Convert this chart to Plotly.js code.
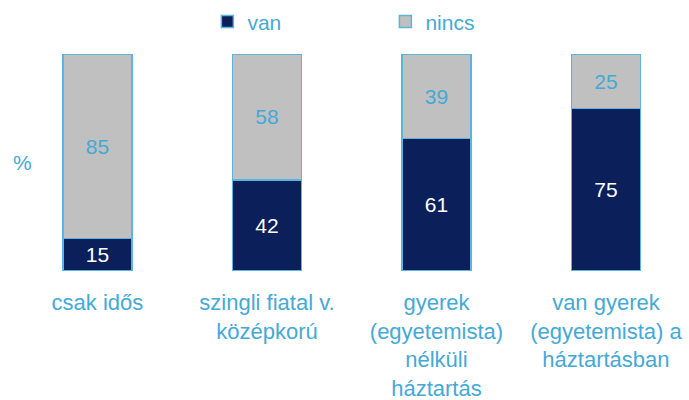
<!DOCTYPE html>
<html>
<head>
<meta charset="utf-8">
<script src="https://cdn.plot.ly/plotly-3.0.1.min.js"></script>
<style>html,body{margin:0;padding:0;background:#fff;}#chart{width:689px;height:400px;}</style>
</head>
<body>
<div id="chart"></div>
<script>
const categories = ["csak idős", "szingli fiatal v.<br>középkorú", "gyerek<br>(egyetemista)<br>nélküli<br>háztartás", "van gyerek<br>(egyetemista) a<br>háztartásban"];
const van = [15, 42, 61, 75];
const nincs = [85, 58, 39, 25];

const accent = "#45a9d6";
const font = "Liberation Sans, Arial, sans-serif";

const traces = [
  {
    type: "bar", name: "van", x: categories, y: van,
    marker: {color: "#0b1f5a", line: {color: "#5ab4de", width: 1.5}},
    text: van.map(String), textposition: "inside", insidetextanchor: "middle",
    textfont: {color: "#ffffff", size: 21, family: font},
    hoverinfo: "skip"
  },
  {
    type: "bar", name: "nincs", x: categories, y: nincs,
    marker: {color: "#c0c0c0", line: {color: "#5ab4de", width: 1.5}},
    text: nincs.map(String), textposition: "inside", insidetextanchor: "middle",
    textfont: {color: accent, size: 21, family: font},
    hoverinfo: "skip"
  }
];

const layout = {
  width: 689, height: 400,
  margin: {l: 0, r: 0, t: 54, b: 129},
  barmode: "stack",
  bargap: 0.593,
  paper_bgcolor: "#ffffff", plot_bgcolor: "#ffffff",
  font: {family: font, color: accent},
  showlegend: true,
  legend: {
    orientation: "h", x: 0.301, xanchor: "left", y: 1.148, yanchor: "middle",
    font: {size: 21, color: accent, family: font},
    entrywidth: 133, entrywidthmode: "pixels",
    traceorder: "normal", itemwidth: 30
  },
  xaxis: {
    type: "category", range: [-0.575, 3.49],
    showgrid: false, zeroline: false, showline: false, ticks: "",
    tickfont: {size: 22, color: accent, family: font},
    ticklabelstandoff: 16,
    fixedrange: true
  },
  yaxis: {
    range: [0, 100], showgrid: false, zeroline: false, showline: false,
    showticklabels: false, ticks: "", fixedrange: true
  },
  annotations: [
    {text: "%", xref: "paper", yref: "paper", x: 0.032, y: 0.5, xanchor: "center", yanchor: "middle",
     showarrow: false, font: {size: 21, color: accent, family: font}}
  ]
};

Plotly.newPlot("chart", traces, layout, {displayModeBar: false, staticPlot: true});
</script>
</body>
</html>
